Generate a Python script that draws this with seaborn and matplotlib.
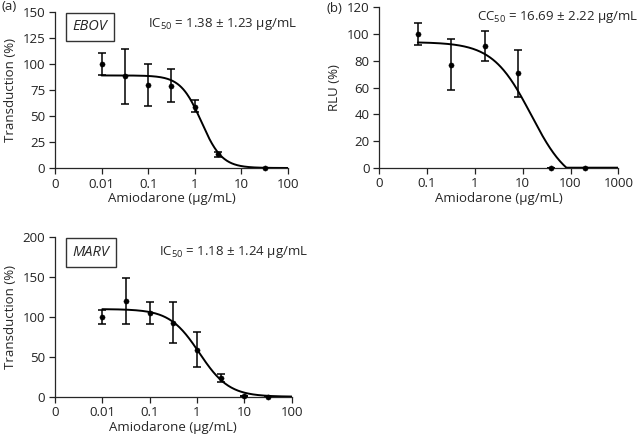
import numpy as np
import pandas as pd
import matplotlib
matplotlib.use("Agg")
import matplotlib.pyplot as plt
import seaborn as sns

# ------------ data ------------
ebov_conc = [0.01, 0.0316, 0.1, 0.316, 1, 3.16, 31.6]
ebov_mean = [100, 88, 80, 79, 59, 13.5, 0]
ebov_err_lo = [11, 26, 20, 16, 5, 3, 0]
ebov_err_hi = [11, 26, 20, 16, 6, 2, 0]
ebov_fit = dict(top=89, bottom=0, ec50=1.38, hill=1.95)

cc_conc = [0.064, 0.32, 1.6, 8, 40, 200]
cc_mean = [100, 77, 91, 70.5, 0, 0]
cc_err_lo = [8, 19, 11, 17.5, 0, 0]
cc_err_hi = [8, 19, 11, 17.5, 0, 0]
cc_fit = dict(top=94, bottom=-15, ec50=15, hill=1.08)

marv_conc = [0.01, 0.0316, 0.1, 0.316, 1, 3.16, 10, 31.6]
marv_mean = [100, 120, 105, 93, 59, 23, 1, 0]
marv_err_lo = [9, 29, 14, 25, 22, 5, 0, 0]
marv_err_hi = [9, 29, 14, 26, 22, 5, 0, 0]
marv_fit = dict(top=110, bottom=0, ec50=1.12, hill=1.38)


def logistic(x, top, bottom, ec50, hill):
    y = bottom + (top - bottom) / (1 + (x / ec50) ** hill)
    return np.clip(y, 0, None)


sns.set_style("ticks")
plt.rcParams['font.family'] = ['Open Sans', 'DejaVu Sans']
plt.rcParams['font.size'] = 9.5
plt.rcParams['mathtext.fontset'] = 'custom'
plt.rcParams['mathtext.rm'] = 'Open Sans'

fig = plt.figure(figsize=(6.4, 4.36), dpi=100)
ax_a = fig.add_axes([0.0859, 0.6147, 0.3641, 0.3578])
ax_b = fig.add_axes([0.5927, 0.6154, 0.3734, 0.3678])
ax_c = fig.add_axes([0.0859, 0.0901, 0.3698, 0.3656])


def panel(ax, conc, mean, lo, hi, fit, xlim, ylim, yticks, ylabel, curve_from):
    xs = np.logspace(np.log10(curve_from), np.log10(xlim[1]), 300)
    curve = pd.DataFrame({'x': xs, 'y': logistic(xs, **fit)})
    sns.lineplot(data=curve, x='x', y='y', ax=ax, color='black', lw=1.4)
    ax.errorbar(conc, mean, yerr=[lo, hi], fmt='none', ecolor='black',
                elinewidth=1.1, capsize=3, capthick=1.1, clip_on=False)
    pts = pd.DataFrame({'x': conc, 'y': mean})
    sns.scatterplot(data=pts, x='x', y='y', ax=ax, color='black', s=14,
                    edgecolor='black', zorder=5, clip_on=False)
    ax.set_xscale('log')
    ax.set_xlim(*xlim)
    ax.set_ylim(*ylim)
    ax.set_yticks(yticks)
    dec = [10.0 ** k for k in range(int(np.log10(xlim[0])), int(np.log10(xlim[1])) + 1)]
    labels = ['0'] + ['%g' % d for d in dec[1:]]
    ax.set_xticks(dec)
    ax.set_xticklabels(labels)
    ax.minorticks_off()
    ax.tick_params(direction='out', length=4, width=0.9, colors='#222222',
                   labelsize=9.5, pad=3)
    ax.set_xlabel('Amiodarone (µg/mL)', labelpad=1, fontsize=9.5)
    ax.set_ylabel(ylabel, labelpad=4, fontsize=9.5)
    sns.despine(ax=ax)
    for s in ax.spines.values():
        s.set_linewidth(0.9)


panel(ax_a, ebov_conc, ebov_mean, ebov_err_lo, ebov_err_hi, ebov_fit,
      (0.001, 100), (0, 150), [0, 25, 50, 75, 100, 125, 150], 'Transduction (%)', 0.01)
panel(ax_b, cc_conc, cc_mean, cc_err_lo, cc_err_hi, cc_fit,
      (0.01, 1000), (0, 120), [0, 20, 40, 60, 80, 100, 120], 'RLU (%)', 0.064)
panel(ax_c, marv_conc, marv_mean, marv_err_lo, marv_err_hi, marv_fit,
      (0.001, 100), (0, 200), [0, 50, 100, 150, 200], 'Transduction (%)', 0.01)

box = dict(boxstyle='square,pad=0.45', fc='white', ec='#333333', lw=1)
ax_a.text(0.075, 0.905, 'EBOV', style='italic', fontsize=10.5,
          transform=ax_a.transAxes, bbox=box, va='center')
ax_c.text(0.075, 0.905, 'MARV', style='italic', fontsize=10.5,
          transform=ax_c.transAxes, bbox=box, va='center')

ax_a.text(0.40, 0.92, r'IC$_{50}$ = 1.38 $\pm$ 1.23 µg/mL', fontsize=9.5,
          transform=ax_a.transAxes, va='center')
fig.text(0.997, 0.961, r'CC$_{50}$ = 16.69 $\pm$ 2.22 µg/mL', fontsize=9.5,
         ha='right', va='center')
ax_c.text(0.44, 0.905, r'IC$_{50}$ = 1.18 $\pm$ 1.24 µg/mL', fontsize=9.5,
          transform=ax_c.transAxes, va='center')

fig.text(0.002, 0.985, '(a)', va='center', fontsize=9.5)
fig.text(0.51, 0.98, '(b)', va='center', fontsize=9.5)

fig.savefig('out.png', dpi=100)
